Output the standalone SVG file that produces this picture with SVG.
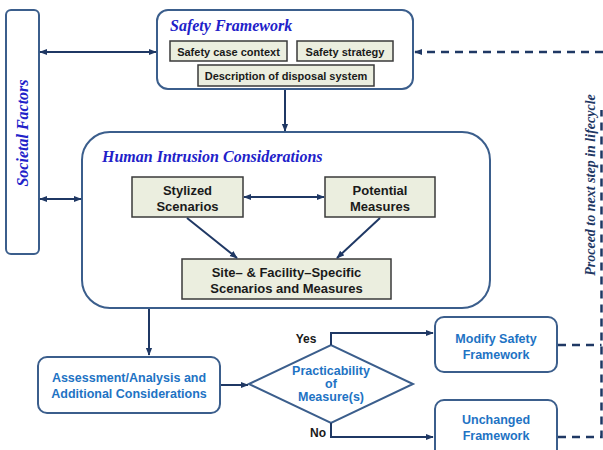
<svg xmlns="http://www.w3.org/2000/svg" width="603" height="450" viewBox="0 0 603 450">
<defs>
  <marker id="ah" viewBox="0 0 10 10" refX="9" refY="5" markerWidth="8" markerHeight="8" markerUnits="userSpaceOnUse" orient="auto-start-reverse">
    <path d="M0,1 L10,5 L0,9 z" fill="#1f3864"/>
  </marker>
</defs>
<style>
  .frame{fill:#fff;stroke:#3b5e8c;stroke-width:2}
  .item{fill:#ebeedf;stroke:#3a3a3a;stroke-width:1.5}
  .title{font-family:"Liberation Serif","Times New Roman",serif;font-weight:bold;font-style:italic;fill:#2121c9;font-size:16px}
  .lbl{font-family:"Liberation Sans",Arial,sans-serif;font-weight:bold;fill:#1a1a1a;text-anchor:middle}
  .blue{font-family:"Liberation Sans",Arial,sans-serif;font-weight:bold;fill:#1e73c4;text-anchor:middle;font-size:12.5px}
  .wire{fill:none;stroke:#1f3864;stroke-width:2}
  .dash{fill:none;stroke:#1f3864;stroke-width:2.5;stroke-dasharray:8 6}
</style>

<rect width="603" height="450" fill="#fff"/>

<!-- societal factors -->
<g id="societal">
  <rect class="frame" x="6" y="10" width="33" height="244" rx="5"/>
  <text class="title" transform="translate(28,133) rotate(-90)" text-anchor="middle">Societal Factors</text>
</g>

<!-- safety framework -->
<g id="safety-framework">
  <rect class="frame" x="157" y="10" width="256" height="79" rx="11"/>
  <text class="title" x="170" y="31">Safety Framework</text>
</g>
<g id="safety-case-context">
  <rect class="item" x="170" y="41" width="117" height="20"/>
  <text class="lbl" x="228.5" y="55.5" font-size="11">Safety case context</text>
</g>
<g id="safety-strategy">
  <rect class="item" x="297" y="41" width="96" height="20"/>
  <text class="lbl" x="345" y="55.5" font-size="11">Safety strategy</text>
</g>
<g id="disposal-system">
  <rect class="item" x="198" y="65" width="176" height="21"/>
  <text class="lbl" x="286" y="80" font-size="11">Description of disposal system</text>
</g>

<!-- human intrusion considerations -->
<g id="human-intrusion">
  <rect class="frame" x="82" y="132" width="408" height="176" rx="28"/>
  <text class="title" x="102" y="162">Human Intrusion Considerations</text>
</g>
<g id="stylized-scenarios">
  <rect class="item" x="132" y="177" width="111" height="40"/>
  <text class="lbl" font-size="13"><tspan x="187.5" y="195">Stylized</tspan><tspan x="187.5" y="211">Scenarios</tspan></text>
</g>
<g id="potential-measures">
  <rect class="item" x="325" y="177" width="110" height="40"/>
  <text class="lbl" font-size="13"><tspan x="380" y="195">Potential</tspan><tspan x="380" y="211">Measures</tspan></text>
</g>
<g id="site-specific">
  <rect class="item" x="182" y="259" width="209" height="40"/>
  <text class="lbl" font-size="13"><tspan x="286.5" y="277">Site– &amp; Facility–Specific</tspan><tspan x="286.5" y="293">Scenarios and Measures</tspan></text>
</g>

<!-- assessment and decision -->
<g id="assessment">
  <rect class="frame" x="38" y="357" width="182" height="56" rx="9"/>
  <text class="blue"><tspan x="129" y="382">Assessment/Analysis and</tspan><tspan x="129" y="398">Additional Considerations</tspan></text>
</g>
<g id="practicability">
  <polygon class="frame" points="249,384 331,345 413,384 331,423"/>
  <text class="blue" font-size="12"><tspan x="331" y="375">Practicability</tspan><tspan x="331" y="388">of</tspan><tspan x="331" y="401">Measure(s)</tspan></text>
</g>
<g id="modify-framework">
  <rect class="frame" x="435" y="317" width="122" height="55" rx="9"/>
  <text class="blue"><tspan x="496" y="343">Modify Safety</tspan><tspan x="496" y="359">Framework</tspan></text>
</g>
<g id="unchanged-framework">
  <rect class="frame" x="435" y="400" width="122" height="60" rx="9"/>
  <text class="blue"><tspan x="496" y="424">Unchanged</tspan><tspan x="496" y="440">Framework</tspan></text>
</g>

<!-- lifecycle label -->
<g id="lifecycle-label">
  <text transform="translate(595,185) rotate(-90)" text-anchor="middle" font-family="'Liberation Serif','Times New Roman',serif" font-weight="bold" font-style="italic" font-size="14" fill="#1f3864">Proceed to next step in lifecycle</text>
</g>

<!-- connectors -->
<g id="connectors">
  <line class="wire" x1="40" y1="52" x2="156" y2="52" marker-start="url(#ah)" marker-end="url(#ah)"/>
  <line class="wire" x1="40" y1="199" x2="81" y2="199" marker-start="url(#ah)" marker-end="url(#ah)"/>
  <line class="wire" x1="285" y1="90" x2="285" y2="131" marker-end="url(#ah)"/>
  <line class="wire" x1="244" y1="197" x2="324" y2="197" marker-start="url(#ah)" marker-end="url(#ah)"/>
  <line class="wire" x1="187" y1="218" x2="237" y2="258" marker-end="url(#ah)"/>
  <line class="wire" x1="380" y1="218" x2="337" y2="258" marker-end="url(#ah)"/>
  <line class="wire" x1="149" y1="309" x2="149" y2="355" marker-end="url(#ah)"/>
  <line class="wire" x1="221" y1="385" x2="248" y2="385" marker-end="url(#ah)"/>
  <path class="wire" d="M331,345 V333 H433" marker-end="url(#ah)"/>
  <path class="wire" d="M331,423 V437 H433" marker-end="url(#ah)"/>
  <line class="dash" x1="603" y1="52" x2="415" y2="52" marker-end="url(#ah)"/>
  <path class="dash" d="M558,345 H601.5"/>
  <path class="dash" d="M558,437 H601.5 V110"/>
  <text class="lbl" x="306" y="343" font-size="12">Yes</text>
  <text class="lbl" x="318" y="437" font-size="12">No</text>
</g>
</svg>
